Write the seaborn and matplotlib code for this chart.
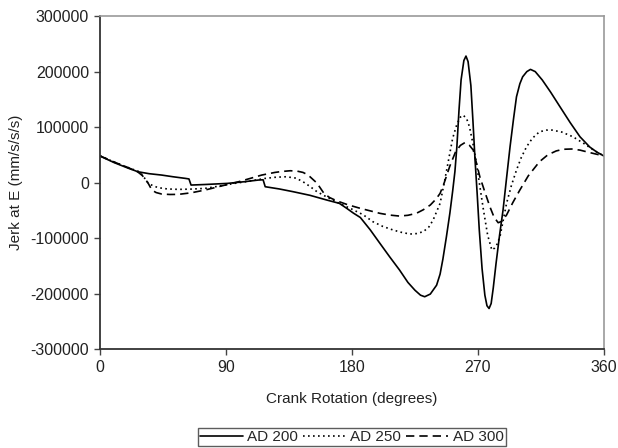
import numpy as np
import pandas as pd
import seaborn as sns
import matplotlib.pyplot as plt

# valores (graus, mm/s/s/s)
DEG_200 = [0, 1, 10, 20, 27, 35, 44, 52, 61, 63.5, 65, 75, 91, 103, 113, 116.5, 118,
           128, 138, 150, 162, 171, 176, 181, 186, 193, 200, 207, 214, 220, 225, 229,
           232, 236, 240.5, 243, 245, 247.5, 250, 252, 253.6, 255, 256.5, 258, 260,
           261.5, 263, 265, 266.5, 268, 269.5, 271, 273, 275, 276.5, 278, 279.5, 281,
           283, 285.5, 288, 290.5, 293, 295.5, 297.6, 300, 302, 305, 307.6, 311, 316,
           322, 328.6, 336, 343, 350, 355, 360]
AD_200 = [48000, 46500, 36000, 26000, 19500, 16000, 13500, 10500, 7500, 6500, -4500, -3500,
          -1500, 1500, 4500, 5000, -7500, -11500, -16500, -23000, -31500, -37500, -46000,
          -55000, -63000, -85000, -109600, -134000, -157600, -180000, -194000, -203000,
          -205800, -201000, -185000, -165000, -138000, -98000, -55000, -15000, 20000,
          65000, 130000, 185000, 220000, 228000, 218000, 175000, 110000, 40000, -20000,
          -85000, -155000, -203000, -222000, -227000, -218000, -190000, -145600, -95000,
          -49500, 8000, 64500, 115000, 154600, 178000, 190600, 200000, 204000, 200000,
          185000, 163000, 137000, 108000, 82500, 64000, 55000, 48000]

DEG_250 = [0, 10, 20, 28.6, 31.5, 34.5, 38, 41.7, 48, 56, 65, 75, 86, 96, 104, 111, 118,
           125, 133, 140, 145, 150, 155, 162, 171, 180, 188, 195, 202, 209.5, 215, 221.4,
           226, 231, 235, 238, 243, 246, 249, 252, 255, 257.5, 259.5, 262, 264, 266.5,
           269, 271.5, 274, 277, 280, 282, 284, 286, 290.5, 294, 297.6, 301, 304.8, 309,
           314, 319, 323, 330, 338, 346, 353, 360]
AD_250 = [48000, 37000, 27000, 19000, 9000, -1500, -6000, -9300, -11500, -12300, -11800,
          -10500, -6000, -1500, 1500, 4500, 7500, 9500, 10500, 8000, 1500, -7000, -16500,
          -26000, -37500, -48000, -58000, -70600, -79000, -85600, -89500, -92800, -92000,
          -88600, -80000, -67600, -37500, 0, 40000, 80000, 105000, 118000, 121600, 115000,
          100500, 70000, 34600, -8000, -49500, -95000, -121600, -118000, -110000, -95000,
          -37500, -5000, 22500, 45000, 64500, 80000, 91500, 94500, 94600, 91000, 82500,
          70000, 58000, 48000]

DEG_300 = [0, 10, 20, 27, 30, 32, 34.5, 37, 40, 44, 50, 56, 65, 75, 87, 99, 108, 115.5,
           125, 130, 136, 141, 145, 148, 150, 155, 160, 164, 169, 177, 186, 193, 200, 207,
           214, 220, 226, 231, 236, 240, 243, 246, 250, 254, 257.5, 260.7, 264, 266.7,
           269, 271.4, 275, 278.6, 281.5, 284.5, 287, 290.5, 295, 300, 306, 314, 320, 326,
           331, 337, 343, 350, 355, 360]
AD_300 = [48000, 37000, 27000, 19000, 13000, 7500, -2000, -13500, -18000, -20700, -21500,
          -21300, -18500, -13500, -6000, 1500, 8000, 13500, 18300, 20000, 21300, 20500,
          18300, 14500, 10500, -1000, -19500, -27000, -32800, -40000, -46500, -51000,
          -55500, -58600, -60400, -59000, -55500, -49000, -40500, -30000, -19500, 0, 30000,
          55000, 67000, 72000, 67000, 58500, 35000, 10500, -17000, -43600, -62000, -72400,
          -70000, -58500, -36000, -13500, 12000, 37500, 50000, 57000, 60000, 60500, 58500,
          54000, 51000, 48000]

LABELS = ["AD 200", "AD 250", "AD 300"]

df = pd.concat([
    pd.DataFrame({"deg": DEG_200, "jerk": AD_200, "serie": LABELS[0]}),
    pd.DataFrame({"deg": DEG_250, "jerk": AD_250, "serie": LABELS[1]}),
    pd.DataFrame({"deg": DEG_300, "jerk": AD_300, "serie": LABELS[2]}),
])

sns.set_theme(style="white")
plt.rcParams["font.family"] = ["Liberation Sans", "DejaVu Sans"]
plt.rcParams["axes.unicode_minus"] = False

fig = plt.figure(figsize=(6.18, 4.48), dpi=100)
ax = fig.add_axes([0.162, 0.221, 0.815, 0.743])

estilos = {LABELS[0]: "", LABELS[1]: (1, 2), LABELS[2]: (5, 3)}
sns.lineplot(data=df, x="deg", y="jerk", style="serie", dashes=estilos,
             color="black", linewidth=1.2, estimator=None, sort=False, ax=ax)

ax.set_xlim(0, 360)
ax.set_ylim(-300000, 300000)
ax.set_xticks([0, 90, 180, 270, 360])
ax.set_yticks(np.arange(-300000, 300001, 100000))
ax.set_xlabel("Crank Rotation (degrees)", fontsize=11, color="#222222", labelpad=12)
ax.set_ylabel("Jerk at E (mm/s/s/s)", fontsize=11, color="#222222", labelpad=5)
ax.tick_params(axis="both", which="both", direction="out", length=4, width=1,
               color="#444444", labelsize=11.5, labelcolor="#222222",
               left=True, bottom=True, pad=4)

for lado in ["left", "bottom"]:
    ax.spines[lado].set_color("#333333")
    ax.spines[lado].set_linewidth(1.3)
for lado in ["top", "right"]:
    ax.spines[lado].set_color("#999999")
    ax.spines[lado].set_linewidth(1.2)

sns.move_legend(ax, "lower center", bbox_to_anchor=(0.5, -0.292), ncol=3,
                title=None, frameon=True, fontsize=11, handlelength=2.8,
                columnspacing=0.3, handletextpad=0.3, borderpad=0.15,
                borderaxespad=0, fancybox=False)
leg = ax.get_legend()
leg.get_frame().set_edgecolor("#333333")
leg.get_frame().set_linewidth(1.0)

plt.savefig("out.png", dpi=100)
